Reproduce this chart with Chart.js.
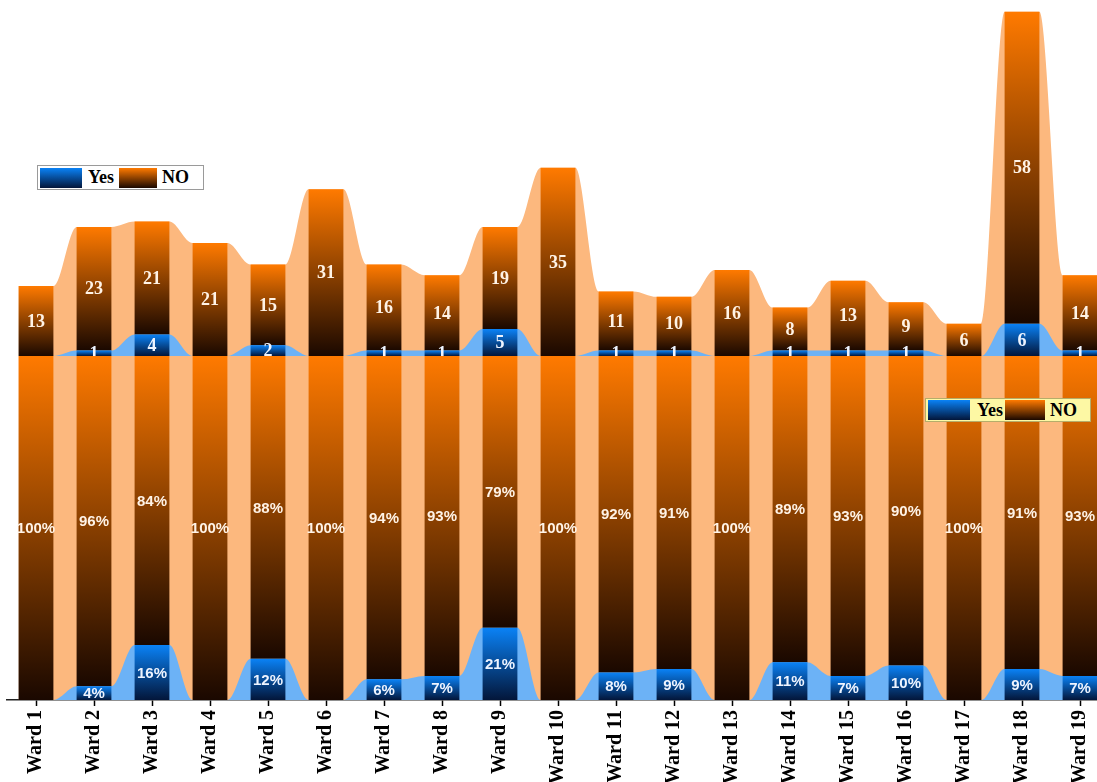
<!DOCTYPE html>
<html>
<head>
<meta charset="utf-8">
<script src="https://cdn.jsdelivr.net/npm/chart.js@4.4.1/dist/chart.umd.min.js"></script>
<style>
  html, body { margin: 0; padding: 0; background: #fff; overflow: hidden; }
  #wrap { position: relative; width: 1097px; height: 782px; overflow: hidden; }
  .panel { position: absolute; left: 0; width: 1110px; }
  #topPanel { top: 0; height: 356px; }
  #botPanel { top: 356px; height: 426px; }
  .legend {
    position: absolute; box-sizing: border-box; display: flex; align-items: center;
    font: bold 18px 'Liberation Serif', 'Times New Roman', serif; color: #000;
  }
  .sw { display: inline-block; height: 20px; }
  .sw.yes { background: linear-gradient(#0a82f6, #03163a); }
  .sw.no { background: linear-gradient(#ff7a00, #1a0800); }
</style>
</head>
<body>
<div id="wrap">
  <div class="panel" id="topPanel"><canvas id="cTop"></canvas></div>
  <div class="panel" id="botPanel"><canvas id="cBot"></canvas></div>

  <div class="legend" style="left:37px; top:165px; width:167px; height:25px; background:#fff; border:1px solid #9a9a9a; padding-left:2px;">
    <span class="sw yes" style="width:42px; margin-right:6px;"></span><span style="margin-right:5px;">Yes</span>
    <span class="sw no" style="width:38px; margin-right:5px;"></span><span>NO</span>
  </div>
  <div class="legend" style="left:925px; top:398px; width:166px; height:24px; background:#fdf8a4; border:1px solid #b5ad6a; padding-left:2px;">
    <span class="sw yes" style="width:42px; margin-right:7px;"></span><span style="margin-right:2px;">Yes</span>
    <span class="sw no" style="width:40px; margin-right:5px;"></span><span>NO</span>
  </div>
</div>

<script>
// données
const wards = ['Ward 1', 'Ward 2', 'Ward 3', 'Ward 4', 'Ward 5', 'Ward 6', 'Ward 7', 'Ward 8', 'Ward 9', 'Ward 10',
  'Ward 11', 'Ward 12', 'Ward 13', 'Ward 14', 'Ward 15', 'Ward 16', 'Ward 17', 'Ward 18', 'Ward 19'];
const yesCount = [0, 1, 4, 0, 2, 0, 1, 1, 5, 0, 1, 1, 0, 1, 1, 1, 0, 6, 1];
const noCount = [13, 23, 21, 21, 15, 31, 16, 14, 19, 35, 11, 10, 16, 8, 13, 9, 6, 58, 14];
const yesPct = [0, 4, 16, 0, 12, 0, 6, 7, 21, 0, 8, 9, 0, 11, 7, 10, 0, 9, 7];
const noPct = [100, 96, 84, 100, 88, 100, 94, 93, 79, 100, 92, 91, 100, 89, 93, 90, 100, 91, 93];

const BAR_FRAC = 0.6;
const totCount = yesCount.map((v, i) => v + noCount[i]);
const totPct = yesPct.map((v, i) => v + noPct[i]);

// points aux bords de chaque barre -> zone lissée derrière les barres
function edgePoints(values) {
  const pts = [];
  values.forEach((v, i) => {
    pts.push({ x: i - BAR_FRAC / 2, y: v });
    pts.push({ x: i + BAR_FRAC / 2, y: v });
  });
  return pts;
}

// dégradé vertical par barre (haut clair -> bas sombre)
function barGradient(tops, bases, c0, c1) {
  return function(context) {
    const chart = context.chart;
    const i = context.dataIndex;
    if (!chart.chartArea || i === undefined) return c0;
    const y = chart.scales.y;
    const yTop = y.getPixelForValue(tops[i]);
    const yBase = y.getPixelForValue(bases[i]);
    if (Math.abs(yBase - yTop) < 0.5) return c0;
    const g = chart.ctx.createLinearGradient(0, yTop, 0, yBase);
    g.addColorStop(0, c0);
    g.addColorStop(1, c1);
    return g;
  };
}

const YES_TOP = '#0a82f6', YES_BOT = '#03163a';
const NO_TOP = '#ff7a00', NO_BOT = '#1a0800';

// étiquettes de valeur au centre de chaque segment
const valueLabels = {
  id: 'valueLabels',
  afterDatasetsDraw(chart, args, opts) {
    const ctx = chart.ctx;
    ctx.save();
    ctx.font = opts.font;
    ctx.textAlign = 'center';
    ctx.textBaseline = 'middle';
    chart.data.datasets.forEach((ds, di) => {
      if (ds.type === 'line') return;
      const meta = chart.getDatasetMeta(di);
      ctx.fillStyle = ds.labelColor;
      meta.data.forEach((el, i) => {
        const v = ds.data[i];
        if (!v) return;
        const p = el.getProps(['x', 'y', 'base'], true);
        ctx.fillText(v + opts.suffix, p.x, (p.y + p.base) / 2 + 1);
      });
    });
    ctx.restore();
  }
};

function areaDataset(values, color, order) {
  return {
    type: 'line',
    data: edgePoints(values),
    xAxisID: 'xl',
    fill: 'origin',
    backgroundColor: color,
    borderColor: 'transparent',
    borderWidth: 0,
    pointRadius: 0,
    tension: 0.4,
    cubicInterpolationMode: 'monotone',
    order: order
  };
}

function buildConfig(yesVals, noVals, totVals, yMax, showAxis, labelOpts) {
  const xAxis = {
    type: 'category',
    offset: true,
    display: showAxis,
    grid: {
      display: true, drawOnChartArea: false, drawTicks: true, offset: false,
      tickLength: 6, tickColor: '#000', tickWidth: 1.5
    },
    border: { display: true, color: '#222', width: 1.5 },
    ticks: {
      color: '#000',
      autoSkip: false,
      minRotation: 90,
      maxRotation: 90,
      padding: 4,
      font: { family: "'Liberation Serif', 'Times New Roman', serif", size: 20, weight: 'bold' }
    }
  };
  if (showAxis) xAxis.afterFit = function(scale) { scale.height = 82; };

  return {
    type: 'bar',
    data: {
      labels: wards,
      datasets: [
        {
          label: 'Yes', data: yesVals, stack: 'w', order: 0, grouped: false,
          barPercentage: BAR_FRAC, categoryPercentage: 1,
          backgroundColor: barGradient(yesVals, yesVals.map(() => 0), YES_TOP, YES_BOT),
          labelColor: '#eef4ff'
        },
        {
          label: 'NO', data: noVals, stack: 'w', order: 0, grouped: false,
          barPercentage: BAR_FRAC, categoryPercentage: 1,
          backgroundColor: barGradient(totVals, yesVals, NO_TOP, NO_BOT),
          labelColor: '#fff3e6'
        },
        areaDataset(yesVals, '#6cb2f6', 1),
        areaDataset(totVals, '#fcb87e', 2)
      ]
    },
    options: {
      responsive: true,
      maintainAspectRatio: false,
      animation: false,
      layout: { padding: { left: 7, right: 1, top: 0, bottom: 0 } },
      plugins: {
        legend: { display: false },
        tooltip: { enabled: false },
        valueLabels: labelOpts
      },
      scales: {
        x: xAxis,
        xl: { type: 'linear', display: false, offset: false, min: -0.5, max: wards.length - 0.5 },
        y: { display: false, min: 0, max: yMax }
      }
    },
    plugins: [valueLabels]
  };
}

new Chart(document.getElementById('cTop'), buildConfig(yesCount, noCount, totCount, 66.2, false,
  { font: "bold 18px 'Liberation Serif', serif", suffix: '' }));

new Chart(document.getElementById('cBot'), buildConfig(yesPct, noPct, totPct, 100, true,
  { font: "bold 15px 'Liberation Sans', Arial, sans-serif", suffix: '%' }));
</script>
</body>
</html>
